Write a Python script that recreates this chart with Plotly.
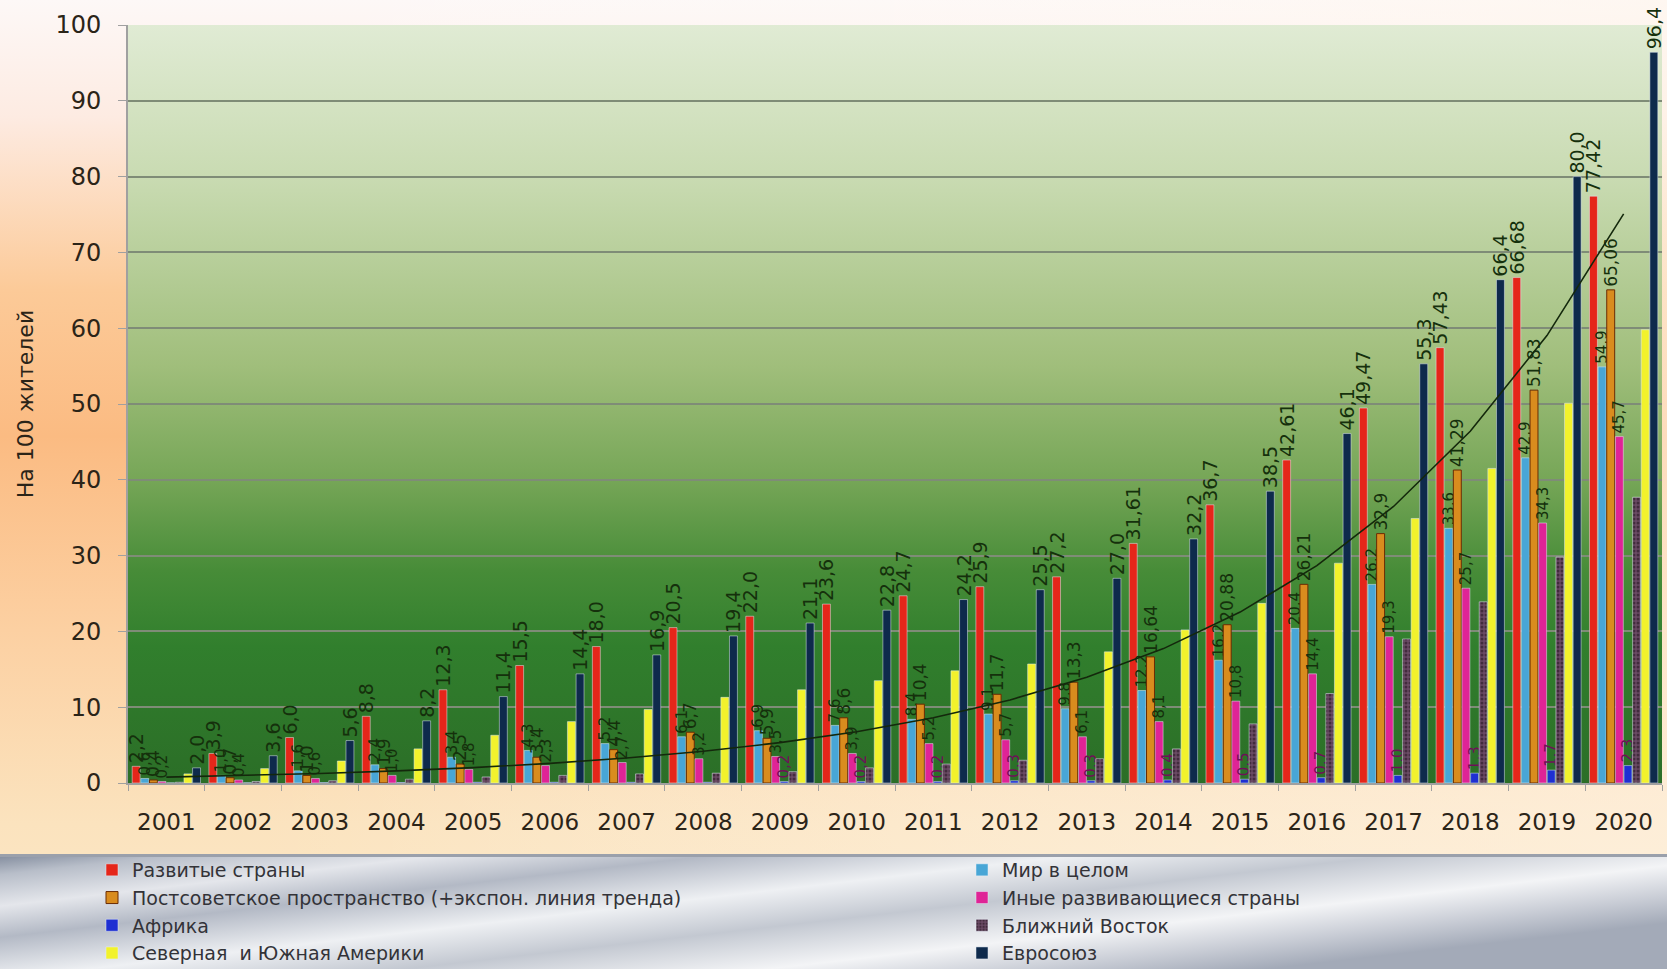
import base64
import numpy as np
import plotly.graph_objects as go

# ---------------- data ----------------
years = [str(y) for y in range(2001, 2021)]

developed   = [2.2, 3.9, 6.0, 8.8, 12.3, 15.5, 18.0, 20.5, 22.0, 23.6, 24.7, 25.9, 27.2, 31.61, 36.7, 42.61, 49.47, 57.43, 66.68, 77.42]
world       = [0.6, 1.0, 1.6, 2.4, 3.4, 4.3, 5.2, 6.1, 6.9, 7.6, 8.4, 9.1, 9.8, 12.2, 16.2, 20.4, 26.2, 33.6, 42.9, 54.9]
postsoviet  = [0.4, 0.7, 1.0, 1.9, 2.5, 3.4, 4.4, 6.7, 5.9, 8.6, 10.4, 11.7, 13.3, 16.64, 20.88, 26.21, 32.9, 41.29, 51.83, 65.06]
other_dev   = [0.2, 0.4, 0.6, 1.0, 1.8, 2.3, 2.7, 3.2, 3.5, 3.9, 5.2, 5.7, 6.1, 8.1, 10.8, 14.4, 19.3, 25.7, 34.3, 45.7]
africa      = [0.02, 0.03, 0.05, 0.07, 0.1, 0.1, 0.1, 0.1, 0.2, 0.2, 0.2, 0.3, 0.3, 0.4, 0.5, 0.7, 1.0, 1.3, 1.7, 2.3]
mideast     = [0.1, 0.2, 0.3, 0.5, 0.8, 1.0, 1.2, 1.3, 1.5, 2.0, 2.5, 3.0, 3.2, 4.5, 7.8, 11.8, 19.0, 23.9, 29.8, 37.7]
americas    = [1.2, 1.9, 2.9, 4.5, 6.3, 8.1, 9.7, 11.3, 12.3, 13.5, 14.8, 15.7, 17.3, 20.2, 23.7, 29.0, 34.9, 41.5, 50.1, 59.8]
eu          = [2.0, 3.6, 5.6, 8.2, 11.4, 14.4, 16.9, 19.4, 21.1, 22.8, 24.2, 25.5, 27.0, 32.2, 38.5, 46.1, 55.3, 66.4, 80.0, 96.4]
africa_labeled = [False] * 8 + [True] * 12

y_ticks = list(range(0, 101, 10))

names = {
    "developed": "Развитые страны",
    "world": "Мир в целом",
    "postsoviet": "Постсоветское пространство (+экспон. линия тренда)",
    "other_dev": "Иные развивающиеся страны",
    "africa": "Африка",
    "mideast": "Ближний Восток",
    "americas": "Северная  и Южная Америки",
    "eu": "Евросоюз",
}


def fmt(v):
    s = f"{v:.2f}" if abs(round(v, 1) - v) > 1e-9 else f"{v:.1f}"
    return s.replace(".", ",")


# ---------------- layout geometry ----------------
W, H = 1667, 969
ML, MR, MT, MB = 128, 5, 25, 186
PW, PH = W - ML - MR, H - MT - MB
FONT = "DejaVu Sans"


def svg_uri(svg):
    return "data:image/svg+xml;base64," + base64.b64encode(svg.encode("utf-8")).decode("ascii")


paper_svg = """<svg xmlns='http://www.w3.org/2000/svg' width='400' height='400' viewBox='0 0 400 400' preserveAspectRatio='none'>
<defs><linearGradient id='g' x1='0' y1='0' x2='0' y2='1'>
<stop offset='0' stop-color='#fdf8f7'/><stop offset='0.12' stop-color='#fdebe2'/>
<stop offset='0.3' stop-color='#fcca98'/><stop offset='0.45' stop-color='#fbbb82'/>
<stop offset='0.65' stop-color='#fcd0a2'/><stop offset='0.85' stop-color='#fbe3be'/>
<stop offset='1' stop-color='#fbe8c8'/></linearGradient>
<linearGradient id='h' x1='0' y1='0' x2='1' y2='0'>
<stop offset='0' stop-color='#ffffff' stop-opacity='0'/><stop offset='0.15' stop-color='#ffffff' stop-opacity='0'/>
<stop offset='1' stop-color='#fff6ec' stop-opacity='0.55'/></linearGradient></defs>
<rect width='400' height='400' fill='url(#g)'/><rect width='400' height='400' fill='url(#h)'/></svg>"""

plot_svg = """<svg xmlns='http://www.w3.org/2000/svg' width='400' height='400' viewBox='0 0 400 400' preserveAspectRatio='none'>
<defs><linearGradient id='g' x1='0' y1='0' x2='0' y2='1'>
<stop offset='0' stop-color='#e0ebd4'/><stop offset='0.2' stop-color='#c9dbb2'/>
<stop offset='0.45' stop-color='#a0be7b'/><stop offset='0.6' stop-color='#76a657'/>
<stop offset='0.72' stop-color='#478c38'/><stop offset='0.82' stop-color='#317f2d'/>
<stop offset='1' stop-color='#2b6e27'/></linearGradient></defs>
<rect width='400' height='400' fill='url(#g)'/></svg>"""

legend_svg = """<svg xmlns='http://www.w3.org/2000/svg' width='1667' height='115' viewBox='0 0 1667 115' preserveAspectRatio='none'>
<defs><linearGradient id='g' x1='0' y1='0' x2='1' y2='0.6'>
<stop offset='0' stop-color='#7f899b'/><stop offset='0.08' stop-color='#b8bec9'/>
<stop offset='0.2' stop-color='#e4e6eb'/><stop offset='0.32' stop-color='#b3b9c5'/>
<stop offset='0.48' stop-color='#eef0f3'/><stop offset='0.62' stop-color='#c3c8d1'/>
<stop offset='0.78' stop-color='#f3f4f6'/><stop offset='0.9' stop-color='#c8ccd5'/>
<stop offset='1' stop-color='#a3aab8'/></linearGradient></defs>
<rect width='1667' height='115' fill='url(#g)'/>
<rect width='1667' height='3' fill='#9aa0ab'/></svg>"""

# ---------------- traces ----------------
LABEL_COLOR = "#15300c"
series = [
    ("developed", developed, "#e5261a", None, True, 19, LABEL_COLOR, "legend"),
    ("world", world, "#48a6d6", None, True, 15, LABEL_COLOR, "legend2"),
    ("postsoviet", postsoviet, "#d98c1e", "#6a2c04", True, 17, LABEL_COLOR, "legend"),
    ("other_dev", other_dev, "#df2496", None, True, 15, LABEL_COLOR, "legend2"),
    ("africa", africa, "#1e2fd2", None, "africa", 15, "#6e1058", "legend"),
    ("mideast", mideast, "#4e2a48", None, False, 15, LABEL_COLOR, "legend2"),
    ("americas", americas, "#f2f22c", None, False, 15, LABEL_COLOR, "legend"),
    ("eu", eu, "#0e2a4c", None, True, 19, LABEL_COLOR, "legend2"),
]

fig = go.Figure()
for key, vals, color, line_color, labeled, fsize, fcolor, leg in series:
    if labeled == "africa":
        text = [fmt(v) if show else "" for v, show in zip(vals, africa_labeled)]
    elif labeled:
        text = [fmt(v) for v in vals]
    else:
        text = None
    marker = dict(color=color)
    if line_color:
        marker["line"] = dict(color=line_color, width=1)
    if key == "mideast":
        marker["pattern"] = dict(shape=".", fgcolor="#1a0c16", bgcolor="#6a4a64", size=4, solidity=0.45)
    fig.add_trace(go.Bar(
        x=years, y=vals, name=names[key], marker=marker,
        text=text, textposition="outside", textangle=-90,
        textfont=dict(size=fsize, color=fcolor, family=FONT),
        constraintext="none", cliponaxis=False,
        legend=leg, legendgroup=key,
    ))

# exponential trend line of the post-Soviet series (fit like a spreadsheet trendline)
idx = np.arange(len(years))
b, a = np.polyfit(idx, np.log(postsoviet), 1)
trend = np.exp(a + b * idx)
fig.add_trace(go.Scatter(x=years, y=trend, mode="lines",
                         line=dict(color="#14280c", width=1.6),
                         showlegend=False, hoverinfo="skip", cliponaxis=False))

# ---------------- layout ----------------
leg_font = dict(size=19, color="#333338", family=FONT)
leg_y = (MT + PH - 851) / PH
fig.update_layout(
    width=W, height=H,
    margin=dict(l=ML, r=MR, t=MT, b=MB, autoexpand=False),
    paper_bgcolor="#fbe3be",
    plot_bgcolor="rgba(0,0,0,0)",
    barmode="group", bargap=0.1, bargroupgap=0.08,
    font=dict(family=FONT, color="#2b2418"),
    showlegend=True,
    legend=dict(x=(92 - ML) / PW, y=leg_y, xanchor="left", yanchor="top",
                orientation="v", bgcolor="rgba(0,0,0,0)", font=leg_font,
                itemwidth=30, tracegroupgap=7, traceorder="normal"),
    legend2=dict(x=(962 - ML) / PW, y=leg_y, xanchor="left", yanchor="top",
                 orientation="v", bgcolor="rgba(0,0,0,0)", font=leg_font,
                 itemwidth=30, tracegroupgap=7, traceorder="normal"),
    xaxis=dict(type="category", tickson="boundaries", ticks="outside", ticklen=6,
               tickcolor="#a0a0a0", showline=True, linecolor="#a0a0a0", linewidth=2,
               tickfont=dict(size=23, color="#2b2418"), showgrid=False,
               ticklabelstandoff=17, automargin=False),
    yaxis=dict(range=[0, 100], tickvals=y_ticks, ticks="outside", ticklen=8,
               tickcolor="#a0a0a0", showline=True, linecolor="#a0a0a0", linewidth=2,
               showgrid=True, gridcolor="#7f8c77", gridwidth=2, zeroline=False,
               tickfont=dict(size=24, color="#2b2418"), ticklabelstandoff=12,
               title=dict(text="На 100 жителей", font=dict(size=22, color="#2b2418"), standoff=16),
               automargin=False),
    images=[
        dict(source=svg_uri(paper_svg), xref="paper", yref="paper",
             x=-ML / PW, y=1 + MT / PH, sizex=W / PW, sizey=H / PH,
             xanchor="left", yanchor="top", sizing="stretch", layer="below"),
        dict(source=svg_uri(plot_svg), xref="paper", yref="paper",
             x=0, y=1, sizex=1, sizey=1,
             xanchor="left", yanchor="top", sizing="stretch", layer="below"),
        dict(source=svg_uri(legend_svg), xref="paper", yref="paper",
             x=-ML / PW, y=(MT + PH - 854) / PH, sizex=W / PW, sizey=115 / PH,
             xanchor="left", yanchor="top", sizing="stretch", layer="below"),
    ],
)

fig.write_html("out.html", config={"displayModeBar": False},
               post_script="document.body.style.margin='0';document.body.style.overflow='hidden';")
